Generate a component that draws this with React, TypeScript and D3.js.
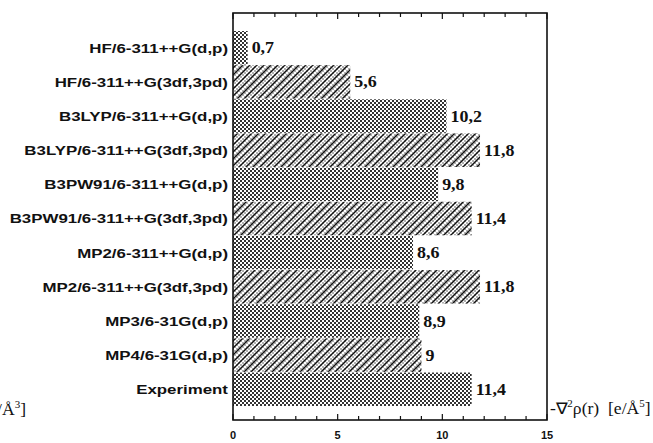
import React from "react";
import * as d3 from "d3";

const categories = [
  "HF/6-311++G(d,p)",
  "HF/6-311++G(3df,3pd)",
  "B3LYP/6-311++G(d,p)",
  "B3LYP/6-311++G(3df,3pd)",
  "B3PW91/6-311++G(d,p)",
  "B3PW91/6-311++G(3df,3pd)",
  "MP2/6-311++G(d,p)",
  "MP2/6-311++G(3df,3pd)",
  "MP3/6-31G(d,p)",
  "MP4/6-31G(d,p)",
  "Experiment",
];
const values = [0.7, 5.6, 10.2, 11.8, 9.8, 11.4, 8.6, 11.8, 8.9, 9, 11.4];
const valueLabels = ["0,7", "5,6", "10,2", "11,8", "9,8", "11,4", "8,6", "11,8", "8,9", "9", "11,4"];
const xTickLabels = [0, 5, 10, 15];
const xMinorTicks = d3.range(0, 16, 1);

const W = 653;
const H = 443;
const frame = { left: 233, right: 547, top: 13, bottom: 420 };

export default function App() {
  const x = d3.scaleLinear().domain([0, 15]).range([frame.left, frame.right]);
  const y = d3.scaleBand<string>().domain(categories).range([31, 406]).paddingInner(0.02);

  const sans = "'Liberation Sans', Arial, sans-serif";
  const serif = "'Liberation Serif', 'Times New Roman', serif";

  return (
    <svg
      width={W}
      height={H}
      style={{ position: "absolute", left: 0, top: 0, background: "#fff" }}
    >
      <defs>
        <pattern id="checker" width="4" height="4" patternUnits="userSpaceOnUse">
          <rect width="4" height="4" fill="#fff" />
          <rect x="0" y="0" width="2" height="2" fill="#333" />
          <rect x="2" y="2" width="2" height="2" fill="#333" />
        </pattern>
        <pattern id="dots" width="4" height="4" patternUnits="userSpaceOnUse">
          <rect width="4" height="4" fill="#fff" />
          <rect x="0" y="0" width="2" height="2" fill="#b0b0b0" />
          <rect x="2" y="2" width="2" height="2" fill="#b0b0b0" />
        </pattern>
        <pattern id="hatch" width="7" height="7" patternUnits="userSpaceOnUse">
          <path d="M-1,8 L8,-1 M-1,1 L1,-1 M6,8 L8,6" stroke="#111" strokeWidth="1.4" />
        </pattern>
      </defs>

      {/* bars */}
      {categories.map((c, i) => {
        const y0 = y(c) as number;
        const w = x(values[i]) - x(0);
        const hatched = i % 2 === 1;
        const cy = y0 + y.bandwidth() / 2;
        return (
          <g key={c}>
            <rect x={x(0)} y={y0} width={w} height={y.bandwidth()} fill={hatched ? "url(#dots)" : "url(#checker)"} />
            {hatched && (
              <rect x={x(0)} y={y0} width={w} height={y.bandwidth()} fill="url(#hatch)" />
            )}
            <g transform={`translate(${x(values[i]) + 4},${cy}) scale(1.12,1)`}>
              <text
                x={0}
                y={0}
                dy="0.35em"
                fontFamily={serif}
                fontWeight="bold"
                fontSize={16}
                fill="#111"
              >
                {valueLabels[i]}
              </text>
            </g>
            <g transform={`translate(228,${cy}) scale(1.25,1)`}>
              <text
                x={0}
                y={0}
                dy="0.36em"
                textAnchor="end"
                fontFamily={sans}
                fontWeight="bold"
                fontSize={13.5}
                fill="#111"
              >
                {c}
              </text>
            </g>
          </g>
        );
      })}

      {/* frame */}
      <rect
        x={frame.left}
        y={frame.top}
        width={frame.right - frame.left}
        height={frame.bottom - frame.top}
        fill="none"
        stroke="#111"
        strokeWidth={1.6}
      />

      {/* ticks */}
      {xMinorTicks.map((t) => {
        const major = t % 5 === 0;
        const len = major ? 6 : 4;
        return (
          <g key={t}>
            <line x1={x(t)} x2={x(t)} y1={frame.top} y2={frame.top + len} stroke="#111" strokeWidth={1.2} />
            <line x1={x(t)} x2={x(t)} y1={frame.bottom} y2={frame.bottom - len} stroke="#111" strokeWidth={1.2} />
          </g>
        );
      })}
      {xTickLabels.map((t) => (
        <text
          key={t}
          x={x(t)}
          y={439}
          textAnchor="middle"
          fontFamily={sans}
          fontWeight="bold"
          fontSize={11}
          fill="#111"
        >
          {t}
        </text>
      ))}

      {/* axis titles */}
      <g transform="translate(550,414) scale(1.1,1)">
        <text x={0} y={0} fontFamily={serif} fontSize={16} fill="#111" xmlSpace="preserve">
          -∇<tspan dy="-7" fontSize={10}>2</tspan>
          <tspan dy="7">ρ(r)  [e/Å</tspan>
          <tspan dy="-7" fontSize={10}>5</tspan>
          <tspan dy="7">]</tspan>
        </text>
      </g>
      <g transform="translate(26,415) scale(1.1,1)">
        <text x={0} y={0} textAnchor="end" fontFamily={serif} fontSize={16} fill="#111">
          ρ(r)  [e/Å<tspan dy="-7" fontSize={10}>3</tspan>
          <tspan dy="7">]</tspan>
        </text>
      </g>
    </svg>
  );
}
